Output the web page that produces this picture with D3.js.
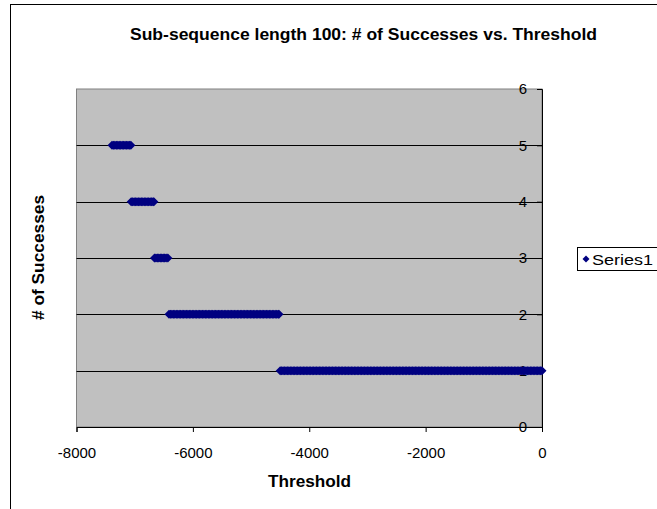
<!DOCTYPE html>
<html>
<head>
<meta charset="utf-8">
<script src="https://cdn.jsdelivr.net/npm/d3@7"></script>
<style>
  body { margin: 0; background: #fff; }
  text { font-family: Arial, "Liberation Sans", sans-serif; }
</style>
</head>
<body>
<div id="chart"></div>
<script>
// thresholds, grouped by # of successes
var succ5 = [-7390, -7365, -7340, -7315, -7290, -7265, -7240, -7215, -7190, -7165,
  -7140, -7115, -7090, -7065];
var succ4 = [-7060, -7035, -7010, -6985, -6960, -6935, -6910, -6885, -6860, -6835,
  -6810, -6785, -6760, -6735, -6710, -6685, -6670];
var succ3 = [-6660, -6635, -6610, -6585, -6560, -6535, -6510, -6485, -6460, -6430];
var succ2 = [-6410, -6385, -6360, -6335, -6310, -6285, -6260, -6235, -6210, -6185,
  -6160, -6135, -6110, -6085, -6060, -6035, -6010, -5985, -5960, -5935,
  -5910, -5885, -5860, -5835, -5810, -5785, -5760, -5735, -5710, -5685,
  -5660, -5635, -5610, -5585, -5560, -5535, -5510, -5485, -5460, -5435,
  -5410, -5385, -5360, -5335, -5310, -5285, -5260, -5235, -5210, -5185,
  -5160, -5135, -5110, -5085, -5060, -5035, -5010, -4985, -4960, -4935,
  -4910, -4885, -4860, -4835, -4810, -4785, -4760, -4735, -4710, -4685,
  -4660, -4635, -4610, -4585, -4560, -4535, -4520];
var succ1 = [-4500, -4475, -4450, -4425, -4400, -4375, -4350, -4325,
  -4300, -4275, -4250, -4225, -4200, -4175, -4150, -4125,
  -4100, -4075, -4050, -4025, -4000, -3975, -3950, -3925,
  -3900, -3875, -3850, -3825, -3800, -3775, -3750, -3725,
  -3700, -3675, -3650, -3625, -3600, -3575, -3550, -3525,
  -3500, -3475, -3450, -3425, -3400, -3375, -3350, -3325,
  -3300, -3275, -3250, -3225, -3200, -3175, -3150, -3125,
  -3100, -3075, -3050, -3025, -3000, -2975, -2950, -2925,
  -2900, -2875, -2850, -2825, -2800, -2775, -2750, -2725,
  -2700, -2675, -2650, -2625, -2600, -2575, -2550, -2525,
  -2500, -2475, -2450, -2425, -2400, -2375, -2350, -2325,
  -2300, -2275, -2250, -2225, -2200, -2175, -2150, -2125,
  -2100, -2075, -2050, -2025, -2000, -1975, -1950, -1925,
  -1900, -1875, -1850, -1825, -1800, -1775, -1750, -1725,
  -1700, -1675, -1650, -1625, -1600, -1575, -1550, -1525,
  -1500, -1475, -1450, -1425, -1400, -1375, -1350, -1325,
  -1300, -1275, -1250, -1225, -1200, -1175, -1150, -1125,
  -1100, -1075, -1050, -1025, -1000, -975, -950, -925,
  -900, -875, -850, -825, -800, -775, -750, -725,
  -700, -675, -650, -625, -600, -575, -550, -525,
  -500, -475, -450, -425, -400, -375, -350, -325,
  -300, -275, -250, -225, -200, -175, -150, -125,
  -100, -75, -50, -25, 0];
var xTicks = [-8000, -6000, -4000, -2000, 0];
var yTicks = [0, 1, 2, 3, 4, 5, 6];
var seriesName = "Series1";

var data = [];
[[1, succ1], [2, succ2], [3, succ3], [4, succ4], [5, succ5]].forEach(function (g) {
  g[1].forEach(function (t) { data.push({threshold: t, successes: g[0]}); });
});

var W = 657, H = 509;
var plot = {left: 76.5, right: 542, top: 89, bottom: 427};

var svg = d3.select("#chart").append("svg")
  .attr("width", W).attr("height", H);

// chart area frame (runs off the right and bottom edges)
svg.append("rect")
  .attr("x", 10.5).attr("y", 4.5)
  .attr("width", 700).attr("height", 600)
  .attr("fill", "#fff").attr("stroke", "#000");

var x = d3.scaleLinear().domain([-8000, 0]).range([plot.left, plot.right]);
var y = d3.scaleLinear().domain([0, 6]).range([plot.bottom, plot.top]);

// plot area
svg.append("rect")
  .attr("x", plot.left).attr("y", plot.top)
  .attr("width", plot.right - plot.left).attr("height", plot.bottom - plot.top)
  .attr("fill", "#c0c0c0").attr("stroke", "#808080");

// gridlines
svg.append("g")
  .selectAll("line")
  .data(yTicks.filter(function (d) { return d > 0 && d < 6; }))
  .enter().append("line")
  .attr("x1", plot.left).attr("x2", plot.right)
  .attr("y1", function (d) { return Math.round(y(d)) + 0.5; })
  .attr("y2", function (d) { return Math.round(y(d)) + 0.5; })
  .attr("stroke", "#000");

// x axis
var xAxis = svg.append("g")
  .attr("transform", "translate(0," + plot.bottom + ")")
  .call(d3.axisBottom(x).tickValues(xTicks).tickSize(5).tickPadding(15)
    .tickFormat(function (d) { return String(d); }));
xAxis.select(".domain").attr("stroke", "#000");
xAxis.selectAll(".tick line").attr("stroke", "#000");
xAxis.selectAll("text").style("font-size", "15px").attr("fill", "#000");

// y axis sits at x = 0 (right edge), labels drawn to its left
var yAxis = svg.append("g")
  .attr("transform", "translate(" + plot.right + ",0)")
  .call(d3.axisLeft(y).tickValues(yTicks).tickSize(5).tickPadding(10)
    .tickFormat(function (d) { return String(d); }));
yAxis.select(".domain").attr("stroke", "#000");
yAxis.selectAll(".tick line").attr("stroke", "#000");
yAxis.selectAll("text").style("font-size", "15px").attr("fill", "#000");

// markers
var diamond = "M0,-4.5L4.5,0L0,4.5L-4.5,0Z";
svg.append("g")
  .selectAll("path")
  .data(data)
  .enter().append("path")
  .attr("d", diamond)
  .attr("transform", function (d) { return "translate(" + x(d.threshold) + "," + y(d.successes) + ")"; })
  .attr("fill", "#000080");

// title
svg.append("text")
  .attr("x", 130).attr("y", 40)
  .attr("textLength", 467).attr("lengthAdjust", "spacingAndGlyphs")
  .style("font-size", "17px").style("font-weight", "bold")
  .text("Sub-sequence length 100: # of Successes vs. Threshold");

// axis titles
svg.append("text")
  .attr("x", 268).attr("y", 487)
  .attr("textLength", 83).attr("lengthAdjust", "spacingAndGlyphs")
  .style("font-size", "16px").style("font-weight", "bold")
  .text("Threshold");

svg.append("text")
  .attr("transform", "translate(44,320) rotate(-90)")
  .attr("textLength", 125).attr("lengthAdjust", "spacingAndGlyphs")
  .style("font-size", "16px").style("font-weight", "bold")
  .text("# of Successes");

// legend
var legend = svg.append("g").attr("transform", "translate(577,247)");
legend.append("rect")
  .attr("x", 0.5).attr("y", 0.5).attr("width", 80).attr("height", 23)
  .attr("fill", "#fff").attr("stroke", "#000");
legend.append("path")
  .attr("d", "M0,-3.5L3.5,0L0,3.5L-3.5,0Z")
  .attr("transform", "translate(9,12)")
  .attr("fill", "#000080");
legend.append("text")
  .attr("x", 15).attr("y", 18)
  .attr("textLength", 61).attr("lengthAdjust", "spacingAndGlyphs")
  .style("font-size", "15px")
  .text(seriesName);
</script>
</body>
</html>
